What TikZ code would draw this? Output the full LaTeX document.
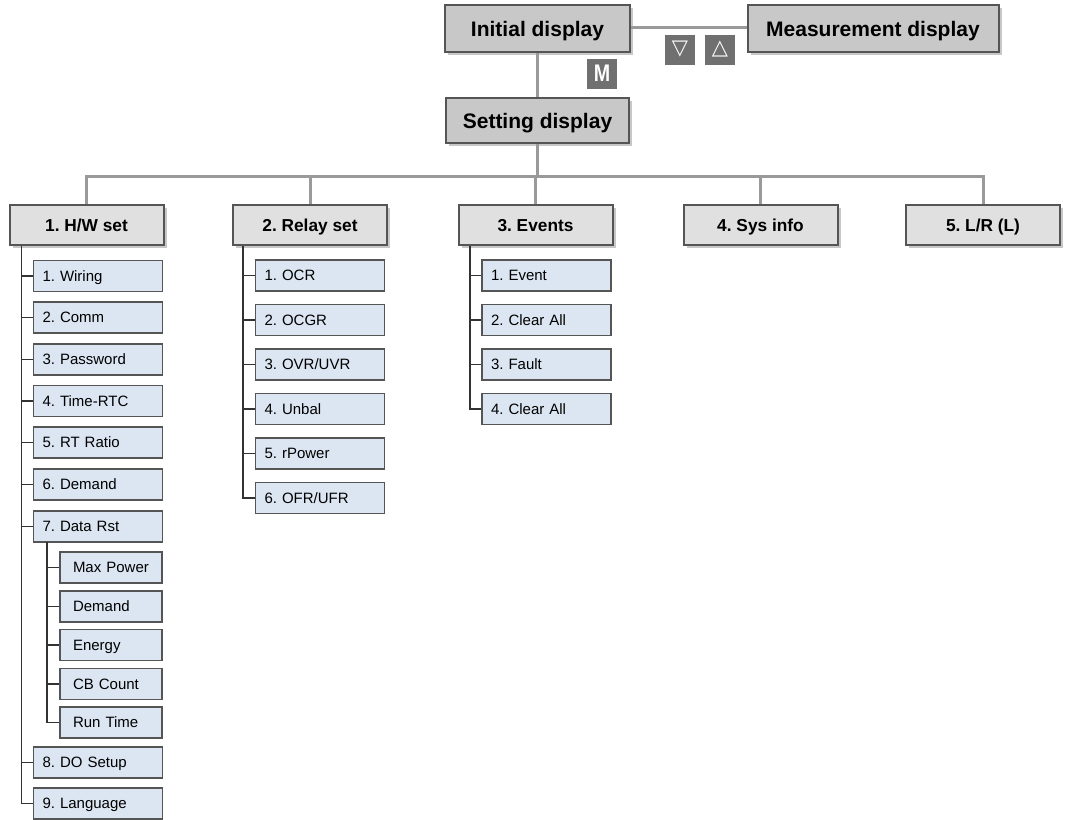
\documentclass[tikz,border=0pt]{standalone}
\usepackage{fontspec}
\setmainfont{Liberation Sans}
\newfontfamily\symfont{DejaVu Sans}
\usetikzlibrary{shadows}
\definecolor{topfill}{HTML}{C8C8C8}
\definecolor{lonefill}{HTML}{E0E0E0}
\definecolor{chfill}{HTML}{DCE6F2}
\definecolor{bord}{HTML}{555555}
\definecolor{conn}{HTML}{9A9A9A}
\definecolor{btn}{HTML}{707070}
\definecolor{tree}{HTML}{333333}
\begin{document}
\frenchspacing
\begin{tikzpicture}[x=1pt,y=-1pt,
  shad/.style={drop shadow={shadow xshift=3pt,shadow yshift=-3pt,fill=black!22,opacity=1}},
  topbox/.style={draw=bord,line width=2pt,fill=topfill,shad,minimum height=47pt,inner sep=0pt,
     text height=15pt,text depth=0pt,font=\fontsize{21}{24}\selectfont\bfseries},
  lonebox/.style={draw=bord,line width=2pt,fill=lonefill,shad,minimum width=154pt,minimum height=40pt,inner sep=0pt,
     text height=12.4pt,text depth=0pt,font=\fontsize{17.3}{20}\selectfont\bfseries},
  chbox/.style={draw=bord,line width=1.2pt,fill=chfill,minimum height=31pt,inner ysep=0pt,inner xsep=9pt,
     text width=111pt,align=left,text height=10.7pt,text depth=0pt,font=\fontsize{15}{18}\selectfont},
  subbox/.style={chbox,inner xsep=13pt,text width=76pt},
  btnbox/.style={fill=btn,minimum size=30pt,inner sep=0pt,text=white},
  connline/.style={draw=conn,line width=3pt},
  treeline/.style={draw=tree,line width=1.2pt}
]
\clip (0,0) rectangle (1065,819);
\fill[white] (0,0) rectangle (1065,819);

% top level
\node[topbox,minimum width=185pt] (init) at (537.5,28.5) {Initial display};
\node[topbox,minimum width=251pt] (meas) at (873,28.5) {Measurement display};
\node[topbox,minimum width=183pt,minimum height=45pt] (set) at (537.5,120.5) {Setting display};

\draw[connline] ([yshift=1.5pt]init.east) -- ([yshift=1.5pt]meas.west);
\draw[connline] (init.south) -- (set.north);

\node[btnbox,font=\fontsize{24}{24}\selectfont\bfseries] (bm) at (602,73.5) {\scalebox{0.82}[1]{M}};
\node[btnbox,font=\symfont\fontsize{21}{24}\selectfont\bfseries] (bdn) at (680,49.5) {▽};
\node[btnbox,font=\symfont\fontsize{21}{24}\selectfont\bfseries] (bup) at (720,49.5) {△};

% level 1
\node[lonebox] (hw) at (86.5,225) {1. H/W set};
\node[lonebox] (relay) at (310,225) {2. Relay set};
\node[lonebox] (events) at (535.5,225) {3. Events};
\node[lonebox] (sys) at (760.5,225) {4. Sys info};
\node[lonebox] (lr) at (983,225) {5. L/R (L)};

\coordinate (bus) at (537,176.5);
\draw[connline] (set.south) -- (set.south |- bus);
\draw[connline] (hw.north) -- (hw.north |- bus) -- (lr.north |- bus) -- (lr.north);
\draw[connline] (relay.north) -- (relay.north |- bus);
\draw[connline] (events.north) -- (events.north |- bus);
\draw[connline] (sys.north) -- (sys.north |- bus);

% H/W set children
\node[chbox] (hw1) at (98,276) {1. Wiring};
\node[chbox] (hw2) at (98,317.5) {2. Comm};
\node[chbox] (hw3) at (98,359.5) {3. Password};
\node[chbox] (hw4) at (98,401) {4. Time-RTC};
\node[chbox] (hw5) at (98,442.5) {5. RT Ratio};
\node[chbox] (hw6) at (98,484.5) {6. Demand};
\node[chbox] (hw7) at (98,526.5) {7. Data Rst};
\node[subbox] (ds1) at (111,567.5) {Max Power};
\node[subbox] (ds2) at (111,606.5) {Demand};
\node[subbox] (ds3) at (111,645) {Energy};
\node[subbox] (ds4) at (111,684) {CB Count};
\node[subbox] (ds5) at (111,722.5) {Run Time};
\node[chbox] (hw8) at (98,762.5) {8. DO Setup};
\node[chbox] (hw9) at (98,803.5) {9. Language};

\coordinate (hwt) at (21.5,246);
\draw[treeline] (hwt) |- (hw9.west);
\foreach \n in {hw1,hw2,hw3,hw4,hw5,hw6,hw7,hw8}
  \draw[treeline] (\n.west -| hwt) -- (\n.west);

\coordinate (dst) at (47,542);
\draw[treeline] (dst) |- (ds5.west);
\foreach \n in {ds1,ds2,ds3,ds4}
  \draw[treeline] (\n.west -| dst) -- (\n.west);

% Relay set children
\node[chbox] (r1) at (320,275.5) {1. OCR};
\node[chbox] (r2) at (320,320) {2. OCGR};
\node[chbox] (r3) at (320,364.5) {3. OVR/UVR};
\node[chbox] (r4) at (320,409) {4. Unbal};
\node[chbox] (r5) at (320,453.5) {5. rPower};
\node[chbox] (r6) at (320,498) {6. OFR/UFR};

\coordinate (rt) at (243,246);
\draw[treeline] (rt) |- (r6.west);
\foreach \n in {r1,r2,r3,r4,r5}
  \draw[treeline] (\n.west -| rt) -- (\n.west);

% Events children
\node[chbox] (e1) at (546.5,275.5) {1. Event};
\node[chbox] (e2) at (546.5,320) {2. Clear All};
\node[chbox] (e3) at (546.5,364.5) {3. Fault};
\node[chbox] (e4) at (546.5,409) {4. Clear All};

\coordinate (et) at (470,246);
\draw[treeline] (et) |- (e4.west);
\foreach \n in {e1,e2,e3}
  \draw[treeline] (\n.west -| et) -- (\n.west);
\end{tikzpicture}
\end{document}
